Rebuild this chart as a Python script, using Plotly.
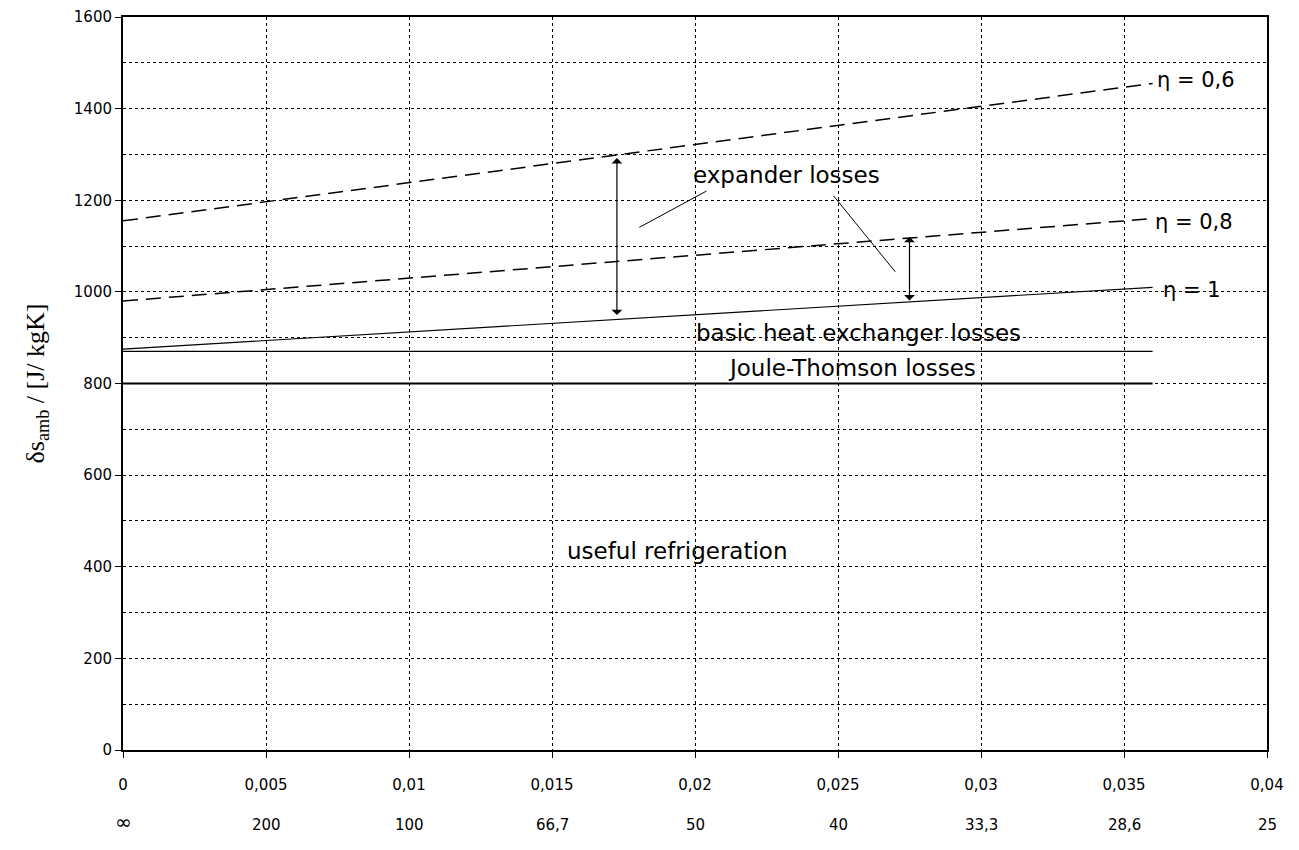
import plotly.graph_objects as go

# ---- data ----
x_line = [0.0, 0.036]
eta_06 = [1155, 1455]
eta_08 = [980, 1160]
eta_10 = [875, 1010]
hx_line = [870, 870]
jt_line = [800, 800]

x_ticks = [0, 0.005, 0.01, 0.015, 0.02, 0.025, 0.03, 0.035, 0.04]
x_ticklabels = ["0", "0,005", "0,01", "0,015", "0,02", "0,025", "0,03", "0,035", "0,04"]
x_second_labels = ["∞", "200", "100", "66,7", "50", "40", "33,3", "28,6", "25"]
y_ticks = [0, 200, 400, 600, 800, 1000, 1200, 1400, 1600]

# arrows: (x, y_top, y_bottom)
arrows = [(0.01727, 1292, 946), (0.0275, 1120, 978)]
# leader lines: (x0, y0, x1, y1)
leaders = [(0.0180, 1139, 0.0204, 1220), (0.0248, 1213, 0.0270, 1044)]

labels = [
    ("expander losses", 0.0232, 1255),
    ("basic heat exchanger losses", 0.0257, 910),
    ("Joule-Thomson losses", 0.0255, 833),
    ("useful refrigeration", 0.0194, 435),
]
eta_labels = [("η = 0,6", 0.0361, 1462), ("η = 0,8", 0.0360, 1152), ("η = 1", 0.0363, 1004)]

FONT = "DejaVu Sans, sans-serif"

fig = go.Figure()
fig.add_trace(go.Scatter(x=x_line, y=eta_06, mode="lines",
                         line=dict(color="black", width=1.5, dash="15px,8px"), showlegend=False))
fig.add_trace(go.Scatter(x=x_line, y=eta_08, mode="lines",
                         line=dict(color="black", width=1.5, dash="15px,8px"), showlegend=False))
fig.add_trace(go.Scatter(x=x_line, y=eta_10, mode="lines",
                         line=dict(color="black", width=1.2), showlegend=False))
fig.add_trace(go.Scatter(x=x_line, y=hx_line, mode="lines",
                         line=dict(color="black", width=1.2), showlegend=False))
fig.add_trace(go.Scatter(x=x_line, y=jt_line, mode="lines",
                         line=dict(color="black", width=2), showlegend=False))

annotations = []
for ax_, yt, yb in arrows:
    annotations.append(dict(x=ax_, y=yt, ax=ax_, ay=yb, xref="x", yref="y", axref="x", ayref="y",
                            text="", showarrow=True, arrowhead=1, startarrowhead=1,
                            arrowside="end+start", arrowsize=1.5, arrowwidth=1.2, arrowcolor="black"))
for x0, y0, x1, y1 in leaders:
    annotations.append(dict(x=x1, y=y1, ax=x0, ay=y0, xref="x", yref="y", axref="x", ayref="y",
                            text="", showarrow=True, arrowhead=0, arrowwidth=1, arrowcolor="black"))
for t, xx, yy in labels:
    annotations.append(dict(x=xx, y=yy, xref="x", yref="y", text=t, showarrow=False,
                            font=dict(family=FONT, size=23, color="black")))
for t, xx, yy in eta_labels:
    annotations.append(dict(x=xx, y=yy, xref="x", yref="y", text=t, showarrow=False, xanchor="left",
                            font=dict(family=FONT, size=21, color="black")))
for xv, t in zip(x_ticks, x_second_labels):
    annotations.append(dict(x=xv, y=0, xref="x", yref="paper", yshift=-86, text=t, showarrow=False,
                            font=dict(family=FONT, size=(20 if t == "∞" else 15), color="black")))

fig.update_layout(
    width=1283, height=834,
    margin=dict(l=115, r=24, t=9, b=92),
    paper_bgcolor="white", plot_bgcolor="white",
    annotations=annotations,
    font=dict(family=FONT, size=15, color="black"),
)
fig.update_xaxes(range=[0, 0.04], tickvals=x_ticks, ticktext=x_ticklabels,
                 showline=True, linecolor="black", linewidth=2, mirror=True,
                 ticks="outside", ticklen=6, tickcolor="black",
                 showgrid=True, gridcolor="black", griddash="3px,3px", gridwidth=1,
                 zeroline=False, ticklabelstandoff=14, automargin=False,
                 tickfont=dict(family=FONT, size=15, color="black"))
fig.update_yaxes(range=[0, 1600], tickvals=y_ticks,
                 showline=True, linecolor="black", linewidth=2, mirror=True,
                 ticks="outside", ticklen=6, tickcolor="black",
                 showgrid=True, gridcolor="black", griddash="3px,3px", gridwidth=1,
                 minor=dict(dtick=100, showgrid=True, gridcolor="black", griddash="3px,3px", gridwidth=1),
                 zeroline=False, automargin=False,
                 tickfont=dict(family=FONT, size=15, color="black"),
                 title=dict(text="δs<sub>amb</sub> / [J/ kgK]", standoff=22,
                            font=dict(family="Liberation Serif, Times New Roman, serif", size=26, color="black")))

fig.write_html("out.html")
